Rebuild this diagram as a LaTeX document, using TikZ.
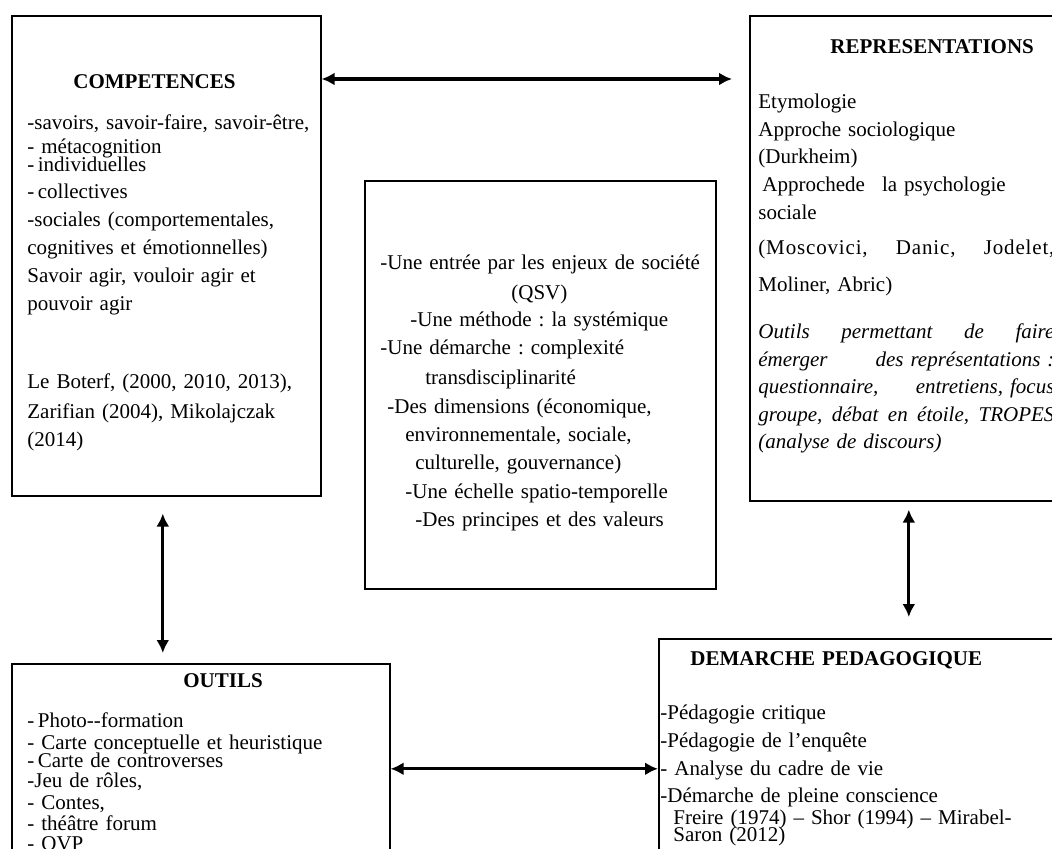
\documentclass[tikz,border=0pt]{standalone}
\usepackage{fontspec}
\setmainfont{Liberation Serif}
\usepackage{tikz}
\usetikzlibrary{arrows.meta, positioning, calc}
\frenchspacing
\tikzset{
  cadre/.style={rectangle, draw=black, line width=0.8pt, anchor=north west, inner sep=0pt},
  txt/.style={anchor=base west, align=left, inner sep=0pt, font=\fontsize{10.5}{14}\selectfont},
  arr/.style={{Latex[length=6.5pt,width=6.5pt]}-{Latex[length=6.5pt,width=6.5pt]}, line width=1.65pt, draw=black},
}

\begin{document}
\begin{tikzpicture}[x=0.5pt, y=-0.5pt]
  \useasboundingbox (0,0) rectangle (1052,849);
  \clip (0,0) rectangle (1052,849);
  \node[cadre, minimum width=154.5pt, minimum height=240pt] (comp) at (11,15) {};
  \node[cadre, minimum width=159pt, minimum height=242.5pt] (rep) at (749,15) {};
  \node[cadre, minimum width=175.5pt, minimum height=204pt] (centre) at (364,180) {};
  \node[cadre, minimum width=189pt, minimum height=105pt] (out) at (11,663) {};
  \node[cadre, minimum width=211pt, minimum height=130pt] (dem) at (658,638) {};
  \node[txt, text width=150pt] (comptxt) at (27,89)
    {\hspace*{23pt}\textbf{COMPETENCES}\\[6.5pt]
     -savoirs, savoir-faire, savoir-être,\\[-2pt]
     - métacognition\\[-5pt]
     -\,individuelles\\[-0.5pt]
     -\,collectives\\
     -sociales (comportementales,\\
     cognitives et émotionnelles)\\
     Savoir agir, vouloir agir et\\
     pouvoir agir\\[25pt]
     Le Boterf, (2000, 2010, 2013),\\[1pt]
     Zarifian (2004), Mikolajczak\\
     (2014)};
  \node[txt, text width=148pt] (reptxt) at (758,54)
    {\hspace*{36pt}\textbf{REPRESENTATIONS}\\[13.5pt]
     Etymologie\\
     Approche sociologique\\[-0.5pt]
     (Durkheim)\\
     \hspace*{2pt}Approchede\hspace{8.5pt}la psychologie\\
     sociale\\[3.5pt]
     \makebox[\linewidth][s]{\addfontfeature{LetterSpace=4}(Moscovici,\hfill Danic,\hfill Jodelet,}\\[4.5pt]
     Moliner, Abric)\\[9.5pt]
     \makebox[\linewidth][s]{\textit{Outils\hfill permettant\hfill de\hfill faire}}\\
     \makebox[\linewidth][s]{\textit{émerger\hfill des représentations :}}\\[-0.5pt]
     \makebox[\linewidth][s]{\textit{questionnaire,\hfill entretiens, focus}}\\
     \makebox[\linewidth][s]{\textit{groupe,\hfill débat\hfill en\hfill étoile,\hfill TROPES}}\\[-0.5pt]
     \textit{(analyse de discours)}};
  \node[txt, text width=170pt] (centretxt) at (380,270)
    {-Une entrée par les enjeux de société\\[1pt]
     \hspace*{65.5pt}(QSV)\\[-0.5pt]
     \hspace*{15pt}-Une méthode : la systémique\\
     -Une démarche : complexité\\[1pt]
     \hspace*{22.5pt}transdisciplinarité\\[0.5pt]
     \hspace*{3.5pt}-Des dimensions (économique,\\
     \hspace*{12.5pt}environnementale, sociale,\\
     \hspace*{17.5pt}culturelle, gouvernance)\\[0.5pt]
     \hspace*{12.5pt}-Une échelle spatio-temporelle\\
     \hspace*{17.5pt}-Des principes et des valeurs};
  \node[txt, font=\fontsize{10.5}{10.25}\selectfont, text width=180pt] (outtxt) at (27,687)
    {\hspace*{78pt}\textbf{OUTILS}\\[9.75pt]
     -\,Photo-{}-formation\\[0.75pt]
     - Carte conceptuelle et heuristique\\[-1.25pt]
     -\,Carte de controverses\\
     -Jeu de rôles,\\[0.75pt]
     - Contes,\\
     - théâtre forum\\
     - OVP};
  \node[txt, text width=200pt] (demtxt) at (660,665)
    {\hspace*{15pt}\textbf{DEMARCHE PEDAGOGIQUE}\\[13pt]
     -Pédagogie critique\\
     -Pédagogie de l'enquête\\
     - Analyse du cadre de vie\\[-0.5pt]
     -Démarche de pleine conscience\\[-3pt]
     \hspace*{6.5pt}Freire (1974) -- Shor (1994) -- Mirabel-\\[-5.5pt]
     \hspace*{6.5pt}Saron (2012)};
  \draw[arr] ([yshift=-32pt]comp.north east) -- ([xshift=-8.5pt,yshift=-32pt]rep.north west);
  \draw[arr] ([xshift=-1.75pt,yshift=-8.5pt]comp.south) -- ($(comp.south |- out.north)+(-1.75pt,5pt)$);
  \draw[arr] ([yshift=-4pt]rep.south) -- ($(rep.south |- dem.north)+(0,10.5pt)$);
  \draw[arr] (out.east) -- (dem.west);
\end{tikzpicture}
\end{document}
